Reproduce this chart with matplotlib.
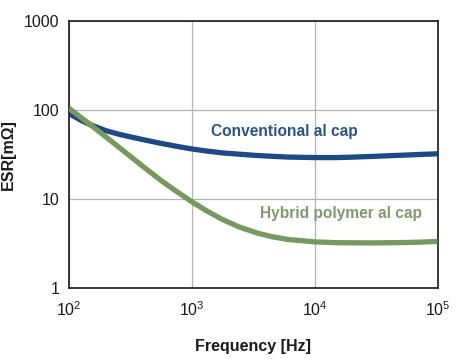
import matplotlib
matplotlib.use("Agg")
import matplotlib.pyplot as plt

plt.rcParams['font.family'] = ['Liberation Sans', 'DejaVu Sans']
plt.rcParams['mathtext.fontset'] = 'custom'
plt.rcParams['mathtext.rm'] = 'Liberation Sans'
plt.rcParams['mathtext.it'] = 'Liberation Sans'

# Data
freq_conv = [100, 125, 150, 200, 250, 300, 400, 550, 750, 1000, 1300, 1760, 2500,
             3400, 6000, 10000, 15000, 20000, 33000, 50000, 70000, 100000]
esr_conv = [91.4, 76.7, 68.1, 58.6, 53.8, 50.7, 46.5, 42.4, 39.1, 36.5, 34.7, 33.0, 31.8,
            30.8, 29.6, 29.2, 29.2, 29.5, 30.3, 31.0, 31.6, 32.2]

freq_hyb = [100, 150, 200, 300, 400, 560, 700, 1000, 1300, 1760, 2400, 3390, 4500,
            5960, 10000, 15000, 30000, 60000, 100000]
esr_hyb = [104.5, 67.9, 49.8, 31.9, 23.2, 16.2, 13.0, 9.3, 7.45, 5.92, 4.88, 4.15, 3.77,
           3.52, 3.30, 3.23, 3.21, 3.25, 3.33]

x_ticks = [1e2, 1e3, 1e4, 1e5]
x_ticklabels = ['$10^2$', '$10^3$', '$10^4$', '$10^5$']
y_ticks = [1, 10, 100, 1000]
y_ticklabels = ['1', '10', '100', '1000']

blue = '#1d4a84'
green = '#77985f'

fig = plt.figure(figsize=(4.55, 3.59), dpi=100)
ax = fig.add_axes([69/455, 1-288/359, (437.5-69)/455, (288-21)/359])

ax.set_xscale('log')
ax.set_yscale('log')
ax.set_xlim(1e2, 1e5)
ax.set_ylim(1, 1000)

ax.grid(True, which='major', color='#b4b4b4', linewidth=0.9)
ax.set_axisbelow(True)

ax.plot(freq_hyb, esr_hyb, color=green, linewidth=3.8, solid_capstyle='butt',
        solid_joinstyle='round', zorder=3)
ax.plot(freq_conv, esr_conv, color=blue, linewidth=3.8, solid_capstyle='butt',
        solid_joinstyle='round', zorder=2)

ax.set_xticks(x_ticks)
ax.set_xticklabels(x_ticklabels)
ax.set_yticks(y_ticks)
ax.set_yticklabels(y_ticklabels)
ax.minorticks_off()
ax.tick_params(axis='both', length=0, labelsize=11.5, colors='#1a1a1a')
ax.tick_params(axis='x', pad=9)
ax.tick_params(axis='y', pad=7)

for s in ax.spines.values():
    s.set_color('#2a2a2a')
    s.set_linewidth(1.3)

ax.text(1420, 56.6, 'Conventional al cap', color='#2b5289', fontsize=11.2,
        fontweight='bold', ha='left', va='center')
ax.text(3620, 6.88, 'Hybrid polymer al cap', color='#7d9b6c', fontsize=11.2,
        fontweight='bold', ha='left', va='center')

fig.text(253/455, 1-347/359, 'Frequency [Hz]', fontsize=11.5, fontweight='bold',
         ha='center', va='center', color='#1a1a1a')
fig.text(8/455, 1-155/359, 'ESR[mΩ]', fontsize=11.5, fontweight='bold',
         ha='center', va='center', rotation=90, color='#1a1a1a')

fig.savefig('out.png', dpi=100)
